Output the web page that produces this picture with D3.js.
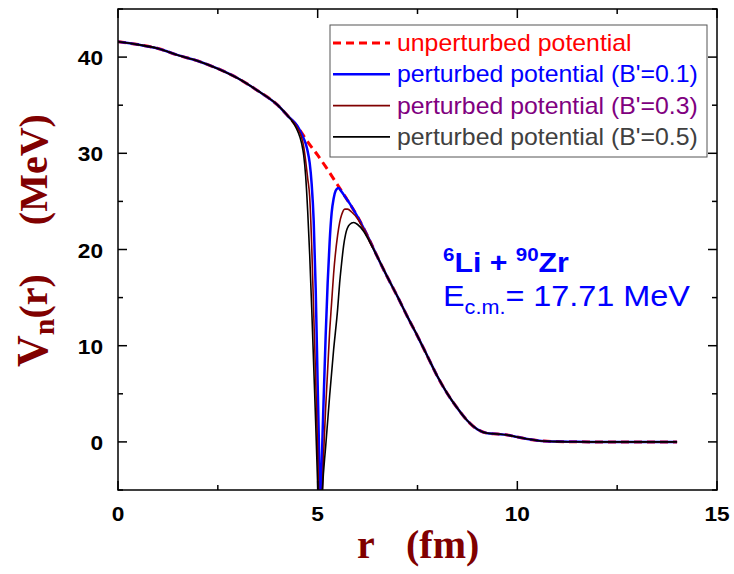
<!DOCTYPE html>
<html>
<head>
<meta charset="utf-8">
<script src="https://cdn.jsdelivr.net/npm/d3@7/dist/d3.min.js"></script>
<style>
  body { margin: 0; background: #fff; }
  svg { display: block; }
  .tick-label { font-family: "Liberation Sans", Arial, sans-serif; font-weight: bold; font-size: 21px; fill: #000; }
  .axis-title { font-family: "Liberation Serif", "Times New Roman", serif; font-weight: bold; font-size: 40px; fill: #800000; }
  .legend-text { font-family: "Liberation Sans", Arial, sans-serif; font-size: 23px; }
</style>
</head>
<body>
<div id="chart"></div>
<script>
// unperturbed potential
const rBase = [0, 0.5, 1, 1.5, 2, 2.5, 3, 3.5, 4, 4.25, 4.5, 4.75, 5, 5.25, 5.5, 5.75, 6, 6.25, 6.5,
  6.75, 7, 7.25, 7.5, 7.75, 8, 8.25, 8.5, 8.75, 9, 9.25, 9.5, 9.75, 10, 10.25, 10.5, 10.75, 11, 11.5, 12, 13, 14];
const vBase = [41.6, 41.3, 40.9, 40.2, 39.6, 38.8, 37.8, 36.5, 35.0, 33.9, 32.7, 31.2, 29.8, 28.3, 26.7, 25.1, 23.4, 21.4, 19.2,
  17.1, 15.1, 13.0, 11.0, 8.9, 6.8, 5.0, 3.5, 2.2, 1.3, 0.9, 0.82, 0.72, 0.5, 0.3, 0.15, 0.07, 0.03, 0.01, 0, 0, 0];

// perturbed potentials near the surface (outside this window they follow vBase)
const rDip01 = [4.25, 4.5, 4.6, 4.7, 4.75, 4.8, 4.85, 4.9, 4.95, 5.0, 5.04, 5.07, 5.1, 5.15, 5.2, 5.25, 5.3, 5.35, 5.4, 5.45, 5.52, 5.6, 5.7, 5.8];
const vDip01 = [33.9, 32.8, 32.0, 31.0, 30.2, 29.0, 26.8, 23.0, 16.0, 6.0, -2.0, -10.0, -3.0, 4.5, 11.0, 16.5, 20.8, 23.8, 25.3, 26.1, 26.4, 26.0, 25.4, 24.8];

const rDip03 = [4.25, 4.5, 4.6, 4.65, 4.7, 4.75, 4.8, 4.85, 4.9, 4.95, 5.0, 5.04, 5.08, 5.12, 5.2, 5.3, 5.35, 5.4, 5.5, 5.55, 5.6, 5.68, 5.75, 5.85, 6.0, 6.1];
const vDip03 = [33.9, 32.6, 31.6, 30.7, 29.2, 27.4, 25.5, 20.5, 13.5, 6.5, -1.0, -8.0, -12.0, -5.0, 3.5, 11.5, 14.5, 17.5, 21.5, 22.8, 23.6, 24.2, 24.2, 23.9, 23.2, 22.5];

const rDip05 = [4.25, 4.4, 4.5, 4.6, 4.65, 4.7, 4.75, 4.8, 4.85, 4.9, 4.95, 5.0, 5.06, 5.12, 5.2, 5.3, 5.4, 5.5, 5.55, 5.6, 5.65, 5.7, 5.8, 5.9, 6.0, 6.15, 6.3];
const vDip05 = [33.9, 33.1, 32.3, 31.0, 29.8, 27.6, 24.0, 19.5, 14.0, 8.0, 2.0, -4.5, -12.0, -5.0, -0.5, 4.8, 9.6, 13.8, 16.5, 18.6, 20.4, 21.6, 22.6, 22.8, 22.6, 21.9, 20.8];

const legendLabels = ['unperturbed potential', "perturbed potential (B'=0.1)", "perturbed potential (B'=0.3)", "perturbed potential (B'=0.5)"];
const xTicks = [0, 5, 10, 15];
const yTicks = [0, 10, 20, 30, 40];

const W = 734, H = 574;
const margin = { left: 118, right: 17, top: 9, bottom: 84 };
const SX = 1.08; // the reference text is a bit wider than it is tall

const svg = d3.select('#chart').append('svg').attr('width', W).attr('height', H);

const x = d3.scaleLinear().domain([0, 15]).range([margin.left, W - margin.right]);
const y = d3.scaleLinear().domain([-5, 45]).range([H - margin.bottom, margin.top]);

function merged(rDip, vDip) {
  const lo = rDip[0], hi = rDip[rDip.length - 1];
  const pts = [];
  rBase.forEach((r, i) => { if (r < lo) pts.push([r, vBase[i]]); });
  rDip.forEach((r, i) => pts.push([r, vDip[i]]));
  rBase.forEach((r, i) => { if (r > hi) pts.push([r, vBase[i]]); });
  return pts;
}

const series = [
  { pts: rBase.map((r, i) => [r, vBase[i]]), color: '#ff0000', width: 3, dash: '8,5', text: '#ff0000' },
  { pts: merged(rDip01, vDip01), color: '#0000ff', width: 2.5, dash: null, text: '#0000ff' },
  { pts: merged(rDip03, vDip03), color: '#800000', width: 1.6, dash: null, text: '#800080' },
  { pts: merged(rDip05, vDip05), color: '#000000', width: 1.6, dash: null, text: '#404040' }
];

svg.append('clipPath').attr('id', 'clip')
  .append('rect')
  .attr('x', margin.left).attr('y', margin.top)
  .attr('width', W - margin.left - margin.right)
  .attr('height', H - margin.top - margin.bottom);

const line = d3.line().x(d => x(d[0])).y(d => y(d[1])).curve(d3.curveMonotoneX);

const g = svg.append('g').attr('clip-path', 'url(#clip)');
series.forEach(s => {
  g.append('path')
    .attr('d', line(s.pts))
    .attr('fill', 'none')
    .attr('stroke', s.color)
    .attr('stroke-width', s.width)
    .attr('stroke-dasharray', s.dash)
    .attr('stroke-linejoin', 'round');
});

// frame with inward ticks on all four sides
const frame = svg.append('g');
const x0 = margin.left, x1 = W - margin.right, y0 = H - margin.bottom, y1 = margin.top;
frame.append('rect')
  .attr('x', x0).attr('y', y1)
  .attr('width', x1 - x0).attr('height', y0 - y1)
  .attr('fill', 'none').attr('stroke', '#000').attr('stroke-width', 1.5);

d3.range(0, 15.01, 2.5).forEach(v => {
  const len = xTicks.includes(v) ? 9 : 5;
  frame.append('line').attr('x1', x(v)).attr('x2', x(v)).attr('y1', y0).attr('y2', y0 - len).attr('stroke', '#000').attr('stroke-width', 1.5);
  frame.append('line').attr('x1', x(v)).attr('x2', x(v)).attr('y1', y1).attr('y2', y1 + len).attr('stroke', '#000').attr('stroke-width', 1.5);
});
d3.range(-5, 45.01, 5).forEach(v => {
  const len = yTicks.includes(v) ? 9 : 5;
  frame.append('line').attr('y1', y(v)).attr('y2', y(v)).attr('x1', x0).attr('x2', x0 + len).attr('stroke', '#000').attr('stroke-width', 1.5);
  frame.append('line').attr('y1', y(v)).attr('y2', y(v)).attr('x1', x1).attr('x2', x1 - len).attr('stroke', '#000').attr('stroke-width', 1.5);
});

// stretched text helper
function stext(parent, tx, ty, anchor) {
  return parent.append('g').attr('transform', `translate(${tx},${ty}) scale(${SX},1)`)
    .append('text').attr('text-anchor', anchor || 'start');
}

xTicks.forEach(d => {
  stext(svg, x(d), y0 + 31, 'middle').attr('class', 'tick-label').text(d);
});
yTicks.forEach(d => {
  stext(svg, x0 - 15, y(d) + 8, 'end').attr('class', 'tick-label').text(d);
});

// axis titles
const xt = svg.append('text').attr('class', 'axis-title')
  .attr('x', 357).attr('y', 558);
xt.append('tspan').text('r');
xt.append('tspan').attr('x', 406).text('(fm)');

const yt = svg.append('text').attr('class', 'axis-title')
  .attr('transform', 'translate(47,367) rotate(-90)');
yt.append('tspan').attr('font-size', 44).text('V');
yt.append('tspan').attr('dy', 7).attr('font-size', 30).text('n');
yt.append('tspan').attr('dy', -7).text('(r)');
yt.append('tspan').attr('dx', 49).text('(MeV)');

// legend
const lg = svg.append('g');
lg.append('rect').attr('x', 330).attr('y', 25).attr('width', 377).attr('height', 132)
  .attr('fill', '#fff').attr('stroke', '#555').attr('stroke-width', 1);
series.forEach((s, i) => {
  const cy = 43 + i * 31.3;
  lg.append('line').attr('x1', 333).attr('x2', 390).attr('y1', cy).attr('y2', cy)
    .attr('stroke', s.color).attr('stroke-width', s.width).attr('stroke-dasharray', s.dash);
  stext(lg, 397, cy + 8).attr('class', 'legend-text').attr('fill', s.text).text(legendLabels[i]);
});

// reaction annotation
const a1 = stext(svg, 443, 272)
  .attr('fill', '#0000ff').attr('font-family', 'Liberation Sans, Arial, sans-serif')
  .attr('font-weight', 'bold').attr('font-size', 28);
a1.append('tspan').attr('font-size', 19).attr('dy', -11).text('6');
a1.append('tspan').attr('dy', 11).text('Li + ');
a1.append('tspan').attr('font-size', 19).attr('dy', -11).text('90');
a1.append('tspan').attr('dy', 11).text('Zr');

const a2 = stext(svg, 443, 306)
  .attr('fill', '#0000ff').attr('font-family', 'Liberation Sans, Arial, sans-serif')
  .attr('font-size', 30);
a2.append('tspan').text('E');
a2.append('tspan').attr('font-size', 20).attr('dy', 8).text('c.m.');
a2.append('tspan').attr('dy', -8).text('= 17.71 MeV');
</script>
</body>
</html>
